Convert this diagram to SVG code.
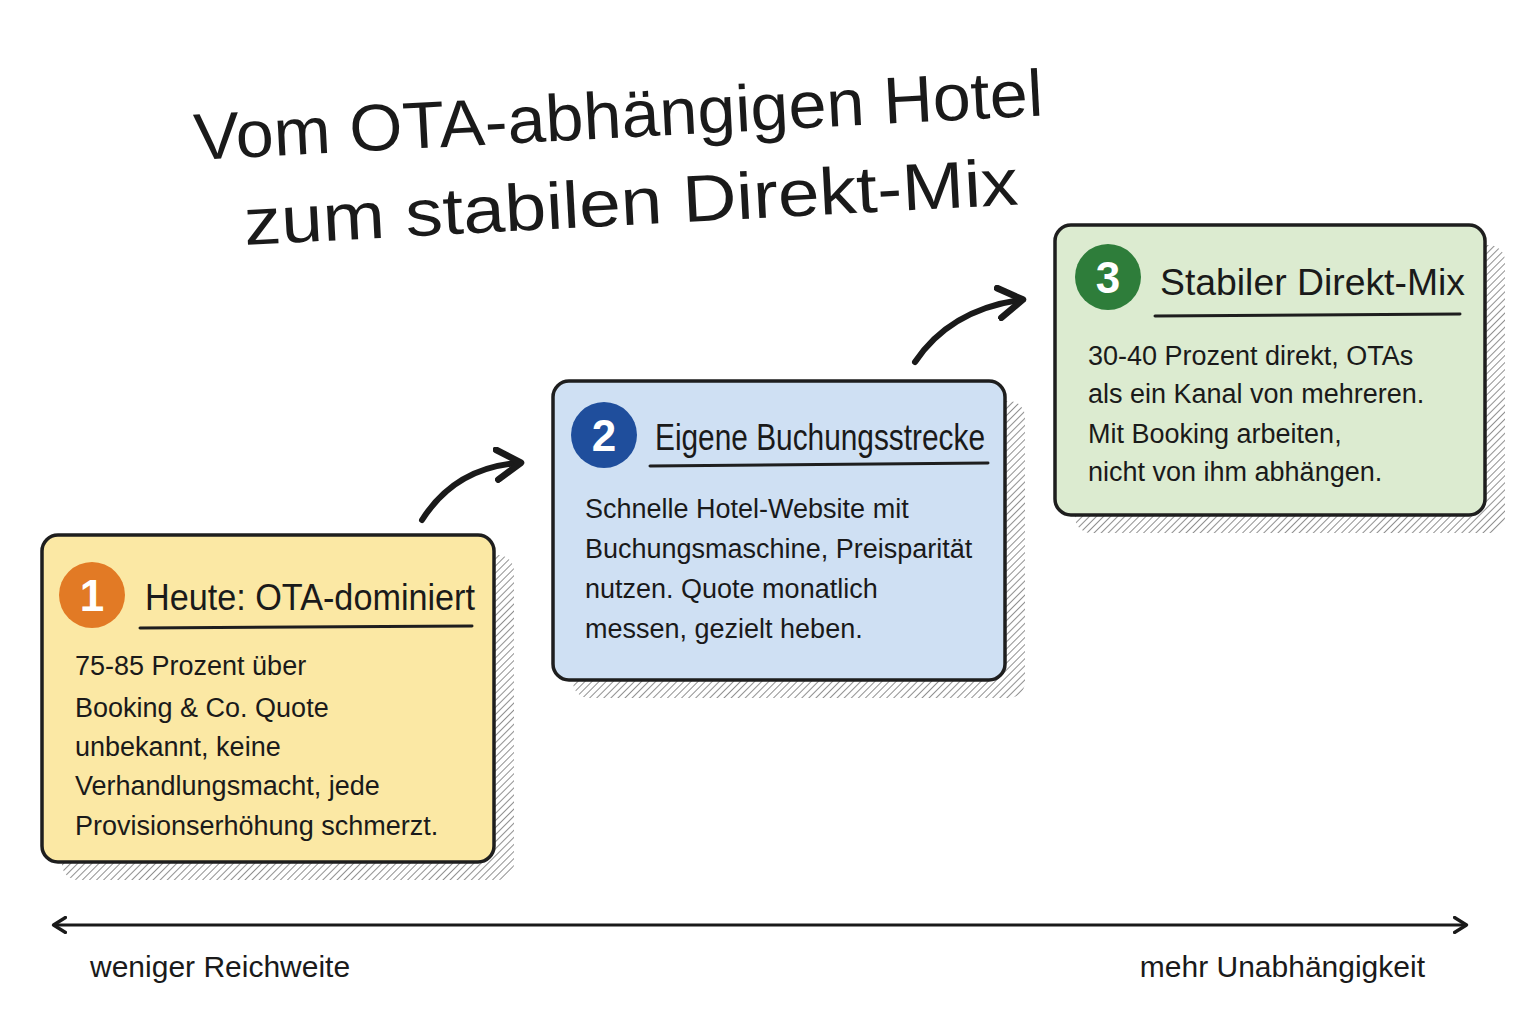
<svg xmlns="http://www.w3.org/2000/svg" width="1536" height="1024" viewBox="0 0 1536 1024">
<defs>
<pattern id="hatch" width="5" height="5" patternUnits="userSpaceOnUse" patternTransform="rotate(45)">
<line x1="0" y1="0" x2="0" y2="5" stroke="#444" stroke-width="1.4"/>
</pattern>
<marker id="ah" viewBox="0 0 12 12" refX="8" refY="6" markerWidth="6" markerHeight="6" orient="auto-start-reverse">
<path d="M1,1 L9,6 L1,11" fill="none" stroke="#1a1a1a" stroke-width="2.2" stroke-linecap="round" stroke-linejoin="round"/>
</marker>
</defs>
<style>
.box{stroke:#1e1e1e;stroke-width:3.5}
.sh{fill:url(#hatch);opacity:0.85}
.t{font-family:"Liberation Sans",Arial,sans-serif;fill:#1a1a1a}
.h{font-size:36px}
.b{font-size:27px}
.num{font-family:"Liberation Sans",Arial,sans-serif;font-size:44px;font-weight:bold;fill:#fff;text-anchor:middle}
.ul{stroke:#1e1e1e;stroke-width:3;stroke-linecap:round}
.con{fill:none;stroke:#1a1a1a;stroke-width:6;stroke-linecap:round}
</style>
<rect width="1536" height="1024" fill="#fff"/>
<g id="title" class="t" font-size="66">
<text x="195" y="160" transform="rotate(-3 195 160)" textLength="850" lengthAdjust="spacingAndGlyphs">Vom OTA-abhängigen Hotel</text>
<text x="245" y="245" transform="rotate(-3 245 245)" textLength="775" lengthAdjust="spacingAndGlyphs">zum stabilen Direkt-Mix</text>
</g>
<g id="node1">
<rect class="sh" x="62" y="555" width="452" height="325" rx="16"/>
<rect class="box" x="42" y="535" width="452" height="327" rx="16" fill="#fbe8a4"/>
<circle cx="92" cy="595" r="33" fill="#e27a25"/>
<text class="num" x="92" y="611">1</text>
<text class="t h" x="145" y="610" textLength="330" lengthAdjust="spacingAndGlyphs">Heute: OTA-dominiert</text>
<line class="ul" x1="140" y1="628" x2="472" y2="626"/>
<text class="t b" x="75" y="675">75-85 Prozent über</text>
<text class="t b" x="75" y="717">Booking &amp; Co. Quote</text>
<text class="t b" x="75" y="756">unbekannt, keine</text>
<text class="t b" x="75" y="795">Verhandlungsmacht, jede</text>
<text class="t b" x="75" y="835">Provisionserhöhung schmerzt.</text>
</g>
<g id="node2">
<rect class="sh" x="573" y="401" width="452" height="297" rx="16"/>
<rect class="box" x="553" y="381" width="452" height="299" rx="16" fill="#cfe0f3"/>
<circle cx="604" cy="435" r="33" fill="#1f4e9c"/>
<text class="num" x="604" y="451">2</text>
<text class="t h" x="655" y="450" textLength="330" lengthAdjust="spacingAndGlyphs">Eigene Buchungsstrecke</text>
<line class="ul" x1="650" y1="466" x2="988" y2="463"/>
<text class="t b" x="585" y="518">Schnelle Hotel-Website mit</text>
<text class="t b" x="585" y="558">Buchungsmaschine, Preisparität</text>
<text class="t b" x="585" y="598">nutzen. Quote monatlich</text>
<text class="t b" x="585" y="638">messen, gezielt heben.</text>
</g>
<g id="node3">
<rect class="sh" x="1075" y="245" width="430" height="288" rx="16"/>
<rect class="box" x="1055" y="225" width="430" height="290" rx="16" fill="#dcebd0"/>
<circle cx="1108" cy="277" r="33" fill="#2e7d3a"/>
<text class="num" x="1108" y="293">3</text>
<text class="t h" x="1160" y="295" textLength="305" lengthAdjust="spacingAndGlyphs">Stabiler Direkt-Mix</text>
<line class="ul" x1="1155" y1="316" x2="1460" y2="314"/>
<text class="t b" x="1088" y="365">30-40 Prozent direkt, OTAs</text>
<text class="t b" x="1088" y="403">als ein Kanal von mehreren.</text>
<text class="t b" x="1088" y="443">Mit Booking arbeiten,</text>
<text class="t b" x="1088" y="481">nicht von ihm abhängen.</text>
</g>
<g id="connectors">
<path class="con" d="M422,520 Q455,468 518,463" marker-end="url(#ah)"/>
<path class="con" d="M915,362 Q950,310 1020,300" marker-end="url(#ah)"/>
<path d="M55,925 L1465,925" fill="none" stroke="#1a1a1a" stroke-width="3" marker-start="url(#ah)" marker-end="url(#ah)"/>
</g>
<g id="axis-labels" class="t" font-size="30">
<text x="90" y="977">weniger Reichweite</text>
<text x="1425" y="977" text-anchor="end">mehr Unabhängigkeit</text>
</g>
</svg>
